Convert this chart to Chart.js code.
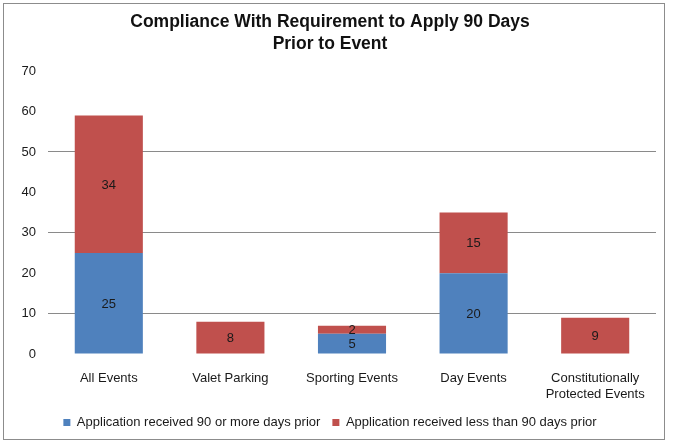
<!DOCTYPE html>
<html>
<head>
<meta charset="utf-8">
<script src="https://cdn.jsdelivr.net/npm/chart.js@4/dist/chart.umd.min.js"></script>
<style>
  body { margin: 0; background: #fff; }
  #frame { position: absolute; left: 3px; top: 3px; width: 660px; height: 435px; border: 1px solid #8c8c8c; background: #fff; }
</style>
</head>
<body>
<div id="frame"><canvas id="myChart" width="660" height="435"></canvas></div>
<script>
// Chart values
const categories = ['All Events', 'Valet Parking', 'Sporting Events', 'Day Events', ['Constitutionally', 'Protected Events']];
const onTime = [25, 0, 5, 20, 0];
const late = [34, 8, 2, 15, 9];
const yTicks = [0, 10, 20, 30, 40, 50, 60, 70];

// Draws the number in the middle of each segment
const segmentLabels = {
    id: 'segmentLabels',
    afterDatasetsDraw(chart) {
        const c = chart.ctx;
        c.save();
        c.font = '13px Arial, "Liberation Sans"';
        c.fillStyle = '#1a1a1a';
        c.textAlign = 'center';
        c.textBaseline = 'middle';
        chart.data.datasets.forEach((ds, i) => {
            chart.getDatasetMeta(i).data.forEach((bar, j) => {
                const v = ds.data[j];
                if (!v) return;
                c.fillText(String(v), bar.x, (bar.y + bar.base) / 2 + 1);
            });
        });
        c.restore();
    }
};

const ctx = document.getElementById('myChart');
const myChart = new Chart(ctx, {
    type: 'bar',
    data: {
        labels: categories,
        datasets: [
            { label: 'Application received 90 or more days prior', data: onTime, backgroundColor: '#4F81BD' },
            { label: 'Application received less than 90 days prior', data: late, backgroundColor: '#C0504D' }
        ]
    },
    options: {
        responsive: false,
        animation: false,
        layout: { padding: { top: 4, right: 8, left: 0, bottom: 0 } },
        datasets: { bar: { barPercentage: 0.56, categoryPercentage: 1 } },
        plugins: {
            title: {
                display: true,
                text: ['Compliance With Requirement to Apply 90 Days', 'Prior to Event'],
                color: '#111',
                font: { family: 'Arial, "Liberation Sans"', size: 17.5, weight: 'bold', lineHeight: 1.26 },
                padding: { top: 3, bottom: 16 }
            },
            legend: {
                position: 'bottom',
                labels: {
                    boxWidth: 7, boxHeight: 7, padding: 12,
                    color: '#1a1a1a',
                    font: { family: 'Arial, "Liberation Sans"', size: 13 }
                }
            },
            tooltip: { enabled: false }
        },
        scales: {
            x: {
                stacked: true,
                grid: { display: false },
                border: { display: false },
                ticks: { color: '#1a1a1a', padding: 9, maxRotation: 0, font: { family: 'Arial, "Liberation Sans"', size: 13 } },
                afterFit: s => { s.height = 50; }
            },
            y: {
                stacked: true,
                min: 0, max: 70,
                afterBuildTicks: s => { s.ticks = yTicks.map(v => ({ value: v })); },
                grid: {
                    drawTicks: false,
                    color: c => [10, 30, 50].includes(c.tick.value) ? '#8a8a8a' : 'rgba(0,0,0,0)'
                },
                border: { display: false },
                ticks: { color: '#1a1a1a', padding: 12, font: { family: 'Arial, "Liberation Sans"', size: 13 } },
                afterFit: s => { s.width = 44; }
            }
        }
    },
    plugins: [segmentLabels]
});
</script>
</body>
</html>
